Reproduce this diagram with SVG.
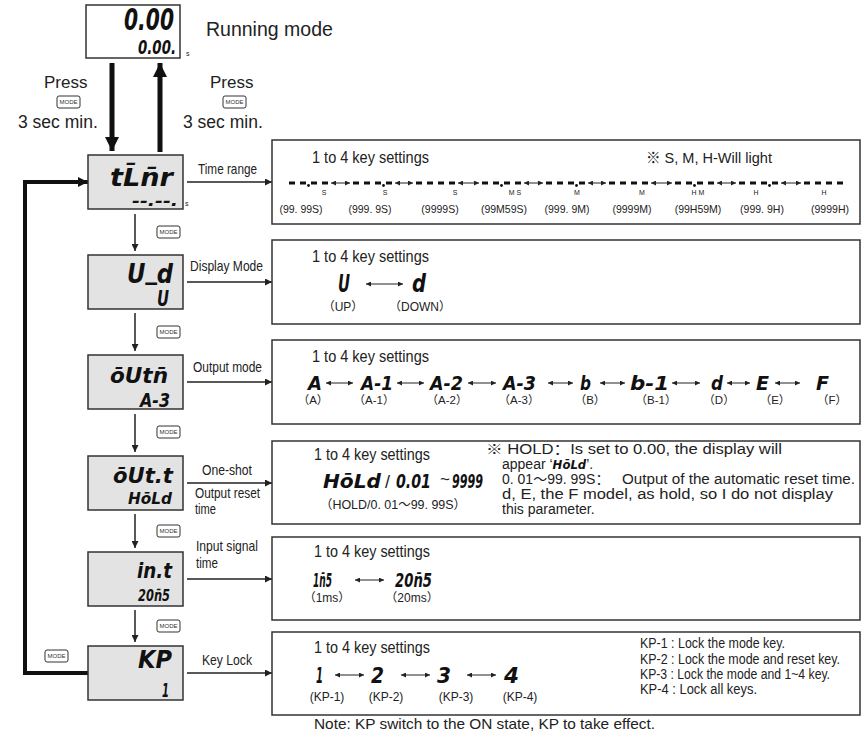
<svg xmlns="http://www.w3.org/2000/svg" width="866" height="739" viewBox="0 0 866 739">
<defs>
<style>
.bg{fill:#fff}
.disp{fill:#e3e3e3;stroke:#333;stroke-width:1.5}
.box{fill:#fff;stroke:#333;stroke-width:1.5}
.t{font-family:"Liberation Sans",Arial,"Noto Sans CJK SC",sans-serif;fill:#222}
.seg{font-family:"DejaVu Sans Condensed","DejaVu Sans",sans-serif;font-weight:bold;font-style:italic;font-stretch:condensed;fill:#111}
.key rect{fill:#fff;stroke:#333;stroke-width:1}
.key text{font-family:"Liberation Sans",Arial,sans-serif;font-size:6px;fill:#333;text-anchor:middle}
.con{stroke:#222;stroke-width:1.5;fill:none}
.thick{stroke:#111;stroke-width:5;fill:none}
.loop{stroke:#111;stroke-width:4;fill:none}
.dbl{stroke:#222;stroke-width:1;fill:none}
.dash{stroke:#111;stroke-width:3;stroke-dasharray:6 5;fill:none}
.mid{text-anchor:middle}
</style>
<marker id="ah" viewBox="0 0 10 10" refX="10" refY="5" markerUnits="userSpaceOnUse" markerWidth="9" markerHeight="7" orient="auto-start-reverse"><path d="M0,0 L10,5 L0,10 z" fill="#222"/></marker>
<marker id="sm" viewBox="0 0 10 10" refX="10" refY="5" markerUnits="userSpaceOnUse" markerWidth="7" markerHeight="5" orient="auto-start-reverse"><path d="M0,0 L10,5 L0,10 z" fill="#222"/></marker>
<marker id="big" viewBox="0 0 10 10" refX="10" refY="5" markerUnits="userSpaceOnUse" markerWidth="18" markerHeight="14" orient="auto"><path d="M0,0 L10,5 L0,10 z" fill="#111"/></marker>
<marker id="lp" viewBox="0 0 10 10" refX="10" refY="5" markerUnits="userSpaceOnUse" markerWidth="11" markerHeight="10" orient="auto"><path d="M0,0 L10,5 L0,10 z" fill="#111"/></marker>
<g id="mk" class="key"><rect x="0" y="0" width="23" height="12" rx="2"/><text x="11.5" y="8.3">MODE</text></g>
</defs>
<rect class="bg" x="0" y="0" width="866" height="739"/>

<g id="connectors">
<line class="thick" x1="112" y1="63" x2="112" y2="151" marker-end="url(#big)"/>
<line class="thick" x1="160" y1="152" x2="160" y2="63" marker-end="url(#big)"/>
<polyline class="loop" points="88,673 25,673 25,182 88,182" marker-end="url(#lp)"/>
<line class="con" x1="187" y1="182" x2="272" y2="182" marker-end="url(#ah)"/>
<line class="con" x1="187" y1="282" x2="272" y2="282" marker-end="url(#ah)"/>
<line class="con" x1="187" y1="382" x2="272" y2="382" marker-end="url(#ah)"/>
<line class="con" x1="187" y1="483" x2="272" y2="483" marker-end="url(#ah)"/>
<line class="con" x1="187" y1="579" x2="272" y2="579" marker-end="url(#ah)"/>
<line class="con" x1="187" y1="673" x2="272" y2="673" marker-end="url(#ah)"/>
<line class="con" x1="135" y1="214" x2="135" y2="251" marker-end="url(#ah)"/>
<line class="con" x1="135" y1="313" x2="135" y2="351" marker-end="url(#ah)"/>
<line class="con" x1="135" y1="414" x2="135" y2="452" marker-end="url(#ah)"/>
<line class="con" x1="135" y1="514" x2="135" y2="548" marker-end="url(#ah)"/>
<line class="con" x1="135" y1="610" x2="135" y2="642" marker-end="url(#ah)"/>
<use href="#mk" x="157" y="226"/>
<use href="#mk" x="157" y="326"/>
<use href="#mk" x="157" y="426"/>
<use href="#mk" x="157" y="525"/>
<use href="#mk" x="157" y="620"/>
<use href="#mk" x="45" y="650"/>
<text class="t" x="198" y="174" font-size="15" textLength="59" lengthAdjust="spacingAndGlyphs">Time range</text>
<text class="t" x="190" y="271" font-size="15" textLength="73" lengthAdjust="spacingAndGlyphs">Display Mode</text>
<text class="t" x="193" y="372" font-size="15" textLength="69" lengthAdjust="spacingAndGlyphs">Output mode</text>
<text class="t" x="202" y="475" font-size="15" textLength="50" lengthAdjust="spacingAndGlyphs">One-shot</text>
<text class="t" x="195" y="498" font-size="14" textLength="65" lengthAdjust="spacingAndGlyphs">Output reset</text>
<text class="t" x="195" y="514" font-size="14" textLength="21" lengthAdjust="spacingAndGlyphs">time</text>
<text class="t" x="196" y="551" font-size="15" textLength="62" lengthAdjust="spacingAndGlyphs">Input signal</text>
<text class="t" x="196" y="568" font-size="15" textLength="22" lengthAdjust="spacingAndGlyphs">time</text>
<text class="t" x="202" y="665" font-size="15" textLength="50" lengthAdjust="spacingAndGlyphs">Key Lock</text>
<text class="t" x="44" y="88" font-size="17">Press</text>
<use href="#mk" x="57" y="96"/>
<text class="t" x="18" y="128" font-size="17.5">3 sec min.</text>
<text class="t" x="210" y="88" font-size="17">Press</text>
<use href="#mk" x="223" y="96"/>
<text class="t" x="183" y="128" font-size="17.5">3 sec min.</text>
</g>

<g id="running">
<rect class="box" x="86" y="5" width="94" height="53"/>
<text class="seg" x="174" y="30" font-size="31" text-anchor="end" textLength="50" lengthAdjust="spacingAndGlyphs">0.00</text>
<text class="seg" x="176" y="54" font-size="19" text-anchor="end" textLength="38" lengthAdjust="spacingAndGlyphs">0.00.</text>
<text class="t" x="186" y="56" font-size="7">s</text>
<text class="t" x="206" y="36" font-size="19.5">Running mode</text>
</g>

<g id="disp-tmr">
<rect class="disp" x="88" y="155" width="95" height="54"/>
<text class="seg" x="110" y="186" font-size="24" textLength="63" lengthAdjust="spacingAndGlyphs">tL&#772;n&#772;r</text>
<text class="seg" x="132" y="206" font-size="16" textLength="46" lengthAdjust="spacingAndGlyphs">--.--.</text>
<text class="t" x="185" y="206" font-size="7">s</text>
</g>
<g id="disp-ud">
<rect class="disp" x="88" y="255" width="95" height="54"/>
<text class="seg" x="127" y="283" font-size="27" textLength="46" lengthAdjust="spacingAndGlyphs">U<tspan dy="-4">_</tspan><tspan dy="4">d</tspan></text>
<text class="seg" x="157" y="306" font-size="21" textLength="12" lengthAdjust="spacingAndGlyphs">U</text>
</g>
<g id="disp-outn">
<rect class="disp" x="88" y="355" width="95" height="54"/>
<text class="seg" x="110" y="383" font-size="22" textLength="58" lengthAdjust="spacingAndGlyphs">o&#772;Utn&#772;</text>
<text class="seg" x="140" y="407" font-size="20" textLength="30" lengthAdjust="spacingAndGlyphs">A-3</text>
</g>
<g id="disp-outt">
<rect class="disp" x="88" y="456" width="95" height="54"/>
<text class="seg" x="113" y="483" font-size="22" textLength="60" lengthAdjust="spacingAndGlyphs">o&#772;Ut.t</text>
<text class="seg" x="128" y="504" font-size="16" textLength="44" lengthAdjust="spacingAndGlyphs">Ho&#772;Ld</text>
</g>
<g id="disp-int">
<rect class="disp" x="88" y="552" width="95" height="54"/>
<text class="seg" x="137" y="578" font-size="21" textLength="35" lengthAdjust="spacingAndGlyphs">in.t</text>
<text class="seg" x="138" y="601" font-size="15" textLength="32" lengthAdjust="spacingAndGlyphs">20n&#772;5</text>
</g>
<g id="disp-kp">
<rect class="disp" x="88" y="646" width="95" height="54"/>
<text class="seg" x="138" y="668" font-size="25" textLength="34" lengthAdjust="spacingAndGlyphs">KP</text>
<text class="seg" x="162" y="697" font-size="20" textLength="7" lengthAdjust="spacingAndGlyphs">1</text>
</g>

<g id="box-time">
<rect class="box" x="272" y="140" width="588" height="84"/>
<text class="t" x="312" y="163" font-size="16" textLength="117" lengthAdjust="spacingAndGlyphs">1 to 4 key settings</text>
<text class="t" x="646" y="163" font-size="15" textLength="126" lengthAdjust="spacingAndGlyphs">※ S, M, H-Will light</text>
<line class="dash" x1="289" y1="183" x2="328" y2="183"/>
<line class="dash" x1="353" y1="183" x2="392" y2="183"/>
<line class="dash" x1="416" y1="183" x2="455" y2="183"/>
<line class="dash" x1="482" y1="183" x2="521" y2="183"/>
<line class="dash" x1="546" y1="183" x2="585" y2="183"/>
<line class="dash" x1="609" y1="183" x2="648" y2="183"/>
<line class="dash" x1="675" y1="183" x2="714" y2="183"/>
<line class="dash" x1="739" y1="183" x2="778" y2="183"/>
<line class="dash" x1="804" y1="183" x2="843" y2="183"/>
<g fill="#111">
<circle cx="308.5" cy="185.5" r="1.4"/>
<circle cx="383.5" cy="185.5" r="1.4"/>
<circle cx="501.5" cy="185.5" r="1.4"/>
<circle cx="576.5" cy="185.5" r="1.4"/>
<circle cx="694.5" cy="185.5" r="1.4"/>
<circle cx="769.5" cy="185.5" r="1.4"/>
</g>
<line class="dbl" x1="331" y1="183" x2="350" y2="183" marker-start="url(#sm)" marker-end="url(#sm)"/>
<line class="dbl" x1="395" y1="183" x2="413" y2="183" marker-start="url(#sm)" marker-end="url(#sm)"/>
<line class="dbl" x1="458" y1="183" x2="479" y2="183" marker-start="url(#sm)" marker-end="url(#sm)"/>
<line class="dbl" x1="524" y1="183" x2="543" y2="183" marker-start="url(#sm)" marker-end="url(#sm)"/>
<line class="dbl" x1="588" y1="183" x2="606" y2="183" marker-start="url(#sm)" marker-end="url(#sm)"/>
<line class="dbl" x1="651" y1="183" x2="672" y2="183" marker-start="url(#sm)" marker-end="url(#sm)"/>
<line class="dbl" x1="717" y1="183" x2="736" y2="183" marker-start="url(#sm)" marker-end="url(#sm)"/>
<line class="dbl" x1="781" y1="183" x2="801" y2="183" marker-start="url(#sm)" marker-end="url(#sm)"/>
<g class="t mid" font-size="7">
<text x="324" y="195">S</text><text x="385" y="195">S</text><text x="455" y="195">S</text>
<text x="515" y="195">M S</text><text x="577" y="195">M</text><text x="642" y="195">M</text>
<text x="698" y="195">H M</text><text x="756" y="195">H</text><text x="824" y="195">H</text>
</g>
<g class="t mid" font-size="10.5">
<text x="301" y="213">(99. 99S)</text><text x="370" y="213">(999. 9S)</text><text x="440" y="213">(9999S)</text>
<text x="504" y="213">(99M59S)</text><text x="567" y="213">(999. 9M)</text><text x="632" y="213">(9999M)</text>
<text x="698" y="213">(99H59M)</text><text x="762" y="213">(999. 9H)</text><text x="830" y="213">(9999H)</text>
</g>
</g>

<g id="box-display">
<rect class="box" x="272" y="240" width="588" height="84"/>
<text class="t" x="312" y="262" font-size="16" textLength="117" lengthAdjust="spacingAndGlyphs">1 to 4 key settings</text>
<text class="seg" x="338" y="292" font-size="25" textLength="12" lengthAdjust="spacingAndGlyphs">U</text>
<line class="dbl" x1="366" y1="284" x2="403" y2="284" marker-start="url(#sm)" marker-end="url(#sm)"/>
<text class="seg" x="412" y="292" font-size="25" textLength="14" lengthAdjust="spacingAndGlyphs">d</text>
<text class="t mid" x="343" y="311" font-size="12">（UP）</text>
<text class="t mid" x="420" y="311" font-size="12">（DOWN）</text>
</g>

<g id="box-output">
<rect class="box" x="272" y="340" width="588" height="84"/>
<text class="t" x="312" y="362" font-size="16" textLength="117" lengthAdjust="spacingAndGlyphs">1 to 4 key settings</text>
<g class="seg" font-size="20">
<text x="308" y="390" textLength="14" lengthAdjust="spacingAndGlyphs">A</text>
<text x="361" y="390" textLength="32" lengthAdjust="spacingAndGlyphs">A-1</text>
<text x="430" y="390" textLength="33" lengthAdjust="spacingAndGlyphs">A-2</text>
<text x="503" y="390" textLength="33" lengthAdjust="spacingAndGlyphs">A-3</text>
<text x="580" y="390" textLength="11" lengthAdjust="spacingAndGlyphs">b</text>
<text x="630" y="390" textLength="39" lengthAdjust="spacingAndGlyphs">b-1</text>
<text x="711" y="390" textLength="12" lengthAdjust="spacingAndGlyphs">d</text>
<text x="756" y="390" textLength="13" lengthAdjust="spacingAndGlyphs">E</text>
<text x="816" y="390" textLength="13" lengthAdjust="spacingAndGlyphs">F</text>
</g>
<line class="dbl" x1="326" y1="383" x2="353" y2="383" marker-start="url(#sm)" marker-end="url(#sm)"/>
<line class="dbl" x1="397" y1="383" x2="424" y2="383" marker-start="url(#sm)" marker-end="url(#sm)"/>
<line class="dbl" x1="468" y1="383" x2="496" y2="383" marker-start="url(#sm)" marker-end="url(#sm)"/>
<line class="dbl" x1="548" y1="383" x2="573" y2="383" marker-start="url(#sm)" marker-end="url(#sm)"/>
<line class="dbl" x1="600" y1="383" x2="625" y2="383" marker-start="url(#sm)" marker-end="url(#sm)"/>
<line class="dbl" x1="672" y1="383" x2="700" y2="383" marker-start="url(#sm)" marker-end="url(#sm)"/>
<line class="dbl" x1="727" y1="383" x2="750" y2="383" marker-start="url(#sm)" marker-end="url(#sm)"/>
<line class="dbl" x1="775" y1="383" x2="800" y2="383" marker-start="url(#sm)" marker-end="url(#sm)"/>
<g class="t mid" font-size="11.5">
<text x="313" y="404">（A）</text><text x="374" y="404">（A-1）</text><text x="447" y="404">（A-2）</text>
<text x="519" y="404">（A-3）</text><text x="590" y="404">（B）</text><text x="656" y="404">（B-1）</text>
<text x="719" y="404">（D）</text><text x="775" y="404">（E）</text><text x="832" y="404">（F）</text>
</g>
</g>

<g id="box-oneshot">
<rect class="box" x="272" y="441" width="588" height="83"/>
<text class="t" x="314" y="460" font-size="16" textLength="116" lengthAdjust="spacingAndGlyphs">1 to 4 key settings</text>
<text class="seg" x="323" y="488" font-size="20" textLength="58" lengthAdjust="spacingAndGlyphs">Ho&#772;Ld</text>
<text class="t" x="385" y="488" font-size="18">/</text>
<text class="seg" x="396" y="488" font-size="20" textLength="35" lengthAdjust="spacingAndGlyphs">0.01</text>
<text class="t" x="440" y="485" font-size="17">~</text>
<text class="seg" x="452" y="488" font-size="20" textLength="31" lengthAdjust="spacingAndGlyphs">9999</text>
<text class="t" x="320" y="509" font-size="12.5" textLength="146" lengthAdjust="spacingAndGlyphs">（HOLD/0. 01～99. 99S）</text>
<text class="t" x="486" y="454" font-size="14" textLength="296" lengthAdjust="spacingAndGlyphs">※ HOLD：Is set to 0.00, the display will</text>
<text class="t" x="502" y="469" font-size="14">appear ‘<tspan class="seg" font-size="13">Ho&#772;Ld</tspan>’.</text>
<text class="t" x="502" y="484" font-size="14"><tspan>0. 01～99. 99S：</tspan><tspan x="622" textLength="233" lengthAdjust="spacingAndGlyphs">Output of the automatic reset time.</tspan></text>
<text class="t" x="502" y="499" font-size="14" textLength="331" lengthAdjust="spacingAndGlyphs">d, E, the F model, as hold, so I do not display</text>
<text class="t" x="502" y="514" font-size="14">this parameter.</text>
</g>

<g id="box-input">
<rect class="box" x="272" y="537" width="588" height="83"/>
<text class="t" x="314" y="557" font-size="16" textLength="116" lengthAdjust="spacingAndGlyphs">1 to 4 key settings</text>
<text class="seg" x="313" y="587" font-size="20" textLength="19" lengthAdjust="spacingAndGlyphs">1n&#772;5</text>
<line class="dbl" x1="355" y1="580" x2="384" y2="580" marker-start="url(#sm)" marker-end="url(#sm)"/>
<text class="seg" x="395" y="587" font-size="20" textLength="37" lengthAdjust="spacingAndGlyphs">20n&#772;5</text>
<text class="t mid" x="327" y="602" font-size="12">（1ms）</text>
<text class="t mid" x="412" y="602" font-size="12">（20ms）</text>
</g>

<g id="box-keylock">
<rect class="box" x="272" y="632" width="588" height="83"/>
<text class="t" x="314" y="653" font-size="16" textLength="116" lengthAdjust="spacingAndGlyphs">1 to 4 key settings</text>
<g class="seg" font-size="21">
<text x="316" y="683" textLength="7" lengthAdjust="spacingAndGlyphs">1</text>
<text x="371" y="683" textLength="13" lengthAdjust="spacingAndGlyphs">2</text>
<text x="437" y="683" textLength="14" lengthAdjust="spacingAndGlyphs">3</text>
<text x="504" y="683" textLength="15" lengthAdjust="spacingAndGlyphs">4</text>
</g>
<line class="dbl" x1="335" y1="675" x2="364" y2="675" marker-start="url(#sm)" marker-end="url(#sm)"/>
<line class="dbl" x1="401" y1="675" x2="430" y2="675" marker-start="url(#sm)" marker-end="url(#sm)"/>
<line class="dbl" x1="467" y1="675" x2="496" y2="675" marker-start="url(#sm)" marker-end="url(#sm)"/>
<g class="t mid" font-size="12">
<text x="327" y="701">(KP-1)</text><text x="386" y="701">(KP-2)</text><text x="456" y="701">(KP-3)</text><text x="520" y="701">(KP-4)</text>
</g>
<text class="t" x="640" y="648" font-size="14" textLength="145" lengthAdjust="spacingAndGlyphs">KP-1 : Lock the mode key.</text>
<text class="t" x="640" y="664" font-size="14" textLength="200" lengthAdjust="spacingAndGlyphs">KP-2 : Lock the mode and reset key.</text>
<text class="t" x="640" y="679" font-size="14" textLength="190" lengthAdjust="spacingAndGlyphs">KP-3 : Lock the mode and 1~4 key.</text>
<text class="t" x="640" y="694" font-size="14" textLength="117" lengthAdjust="spacingAndGlyphs">KP-4 : Lock all keys.</text>
</g>

<text class="t" x="314" y="729" font-size="15" textLength="341" lengthAdjust="spacingAndGlyphs">Note: KP switch to the ON state, KP to take effect.</text>
</svg>
